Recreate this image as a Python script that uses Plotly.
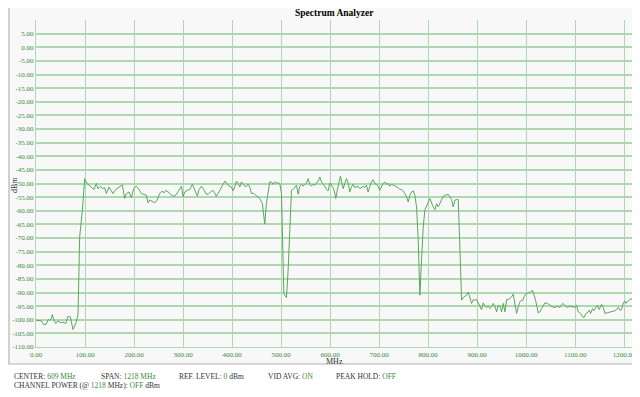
import plotly.graph_objects as go

# ---------------- data ----------------
freq_mhz = [
    0.7, 11, 15.7, 21.1, 24.5, 27.9, 31.3, 33.4, 36.1, 40.2, 44.9, 49.7, 55.1, 60.6, 65.3, 70.1,
    75.5, 81, 85.7, 89.1, 94.6, 99.3, 104.1, 113, 118.4, 123.1, 126.5, 131.3, 135.4, 140.1,
    143.5, 149, 153.7, 157.1, 162.6, 167.3, 172.1, 176.2, 180.9, 184.3, 189.8, 194.5, 199.3,
    204.7, 210.2, 214.9, 219.7, 225.1, 228.5,
    232.1, 242.3, 247.1, 252.5, 257.9, 260.7, 264.7, 269.5, 274.3, 279.7, 285.1, 289.9, 294.7,
    296.7, 300.1, 303.5, 308.3, 313.7, 319.1, 322.5, 325.9, 329.3, 332.7, 337.5, 342.3, 346.3,
    351.1, 355.9, 361.3, 364.7, 368.1, 371.5, 376.3, 381.7, 385.8, 389.9, 393.9, 398.7, 402.1,
    405.5, 408.9, 412.3, 415.7, 419.1, 423.9, 427.9, 432.7, 436.1, 439.5, 442.9, 448.3, 453.1,
    456.5, 461.9, 466.7, 470.1, 473.5, 476.9,
    480.4, 483.8, 487.2, 490.6, 494, 497.4, 500.8, 502.8, 505.6, 507.6, 511, 514.4, 517.8,
    521.2, 524.6, 528, 531.4, 534.8, 538.2, 541.6, 545, 548.4, 551.8, 555.2, 558.6, 562, 565.4,
    568.8, 572.2, 575.6, 579, 582.4, 585.8, 589.2, 592.6, 596, 599.4, 602.8, 606.2, 609.6,
    611.6, 614.4, 616.4, 618.4, 621.2, 623.2, 626.6, 630, 633.4, 636.8, 640.2, 643.6, 647,
    650.4, 653.8, 657.2, 660.6, 664, 667.4, 670.8, 674.2, 677.6, 681, 684.4, 687.8, 691.2,
    694.6, 698, 701.4, 704.8, 708.2, 711.6, 715, 718.4, 721.8,
    725.4, 728.8, 732.2, 735.6, 739, 742.4, 745.8, 749.2, 752.6, 756, 759.4, 762.8, 766.2,
    769.6, 773, 776.4, 779.8, 783.2, 786.6, 790, 793.4, 796.8, 800.2, 803.6, 807, 810.4,
    813.8, 817.2, 820.6, 824, 827.4, 830.8, 834.2, 837.6, 841, 844.4, 847.8, 851.2, 854.6,
    858, 861.4, 864.8,
    868.3, 873.1, 878.5, 881.9, 885.3, 888.7, 892.1, 895.5, 898.9, 902.3, 905.7, 909.1, 912.5,
    915.9, 919.3, 922.7, 926.1, 929.5, 932.9, 936.3, 939.7, 943.1, 946.5, 949.9, 953.3, 956.7,
    960.1, 963.5, 966.9, 970.3, 973.7, 977.1, 980.5, 983.9, 987.3, 990.7, 992.7, 995.5, 999.5,
    1004.3, 1009.1, 1013.1, 1015.9, 1020, 1024.7, 1028.1, 1033.5, 1038.3, 1043.1, 1048.5,
    1053.9, 1058.7, 1063.5, 1068.9, 1074.3, 1079.1, 1083.9, 1089.3, 1094.7, 1099.5, 1102.9,
    1106.3, 1111.1, 1115.1, 1117.9, 1121.9, 1124.7, 1128.7, 1131.5, 1135.5, 1138.3, 1142.3,
    1145.1, 1149.1, 1151.9, 1153.9, 1157.3, 1160.7, 1164.1, 1170.9, 1177.7, 1181.1, 1184.5,
    1187.9, 1191.3, 1194.7, 1198.1, 1201.5, 1203.5, 1206.3, 1210.3, 1215.1, 1218,
]
level_dbm = [
    -100.2, -100.4, -101.8, -101.6, -99.9, -100.2, -99.7, -98.1, -99.9, -101.4, -100.4, -101.0,
    -100.9, -101.4, -98.7, -99.0, -103.6, -101.4, -98.3, -69.6, -59.8, -48.2, -50.0, -51.3,
    -52.2, -50.0, -51.9, -51.0, -51.9, -51.5, -53.7, -51.3, -52.5, -53.7, -52.2, -51.5, -51.0,
    -50.6, -55.5, -53.7, -53.1, -55.2, -51.9, -51.0, -52.2, -53.7, -54.1, -54.3, -57.1,
    -56.1, -57.1, -56.1, -53.7, -52.7, -53.5, -52.5, -53.1, -53.9, -54.7, -54.3, -53.1, -51.9,
    -51.0, -54.9, -53.1, -52.5, -52.2, -50.3, -51.9, -53.7, -54.7, -52.2, -51.0, -52.2, -53.7,
    -54.0, -53.1, -52.5, -53.5, -54.7, -53.7, -51.9, -50.3, -49.1, -50.0, -51.0, -51.3, -52.7,
    -51.3, -49.1, -50.0, -51.3, -49.4, -50.3, -51.3, -50.3, -51.3, -53.7, -53.5, -54.3, -54.9,
    -55.5, -57.4, -64.9, -57.4, -52.5, -49.4,
    -49.4, -50.3, -49.4, -49.8, -49.8, -50.0, -53.7, -65.9, -90.4, -91.0, -91.9, -81.8, -65.9,
    -52.5, -52.2, -51.5, -50.6, -53.9, -51.0, -50.3, -51.0, -50.3, -49.8, -48.2, -50.3, -51.0,
    -50.3, -50.6, -50.0, -49.1, -47.6, -49.4, -50.3, -51.0, -52.2, -52.7, -49.8, -50.6, -51.5,
    -53.5, -55.5, -52.7, -51.3, -49.4, -47.3, -49.1, -51.9, -50.0, -48.2, -49.8, -53.1, -51.3,
    -50.3, -51.5, -51.3, -51.0, -51.9, -51.3, -51.0, -51.5, -50.6, -53.1, -51.3, -49.4, -48.6,
    -50.0, -50.3, -51.0, -52.5, -51.0, -50.0, -49.4, -50.3, -50.0, -51.0,
    -50.3, -50.6, -51.0, -51.0, -51.5, -52.2, -52.2, -52.7, -53.7, -54.9, -56.8, -54.3, -53.1,
    -52.7, -54.3, -58.6, -70.8, -91.0, -78.2, -65.9, -59.8, -58.6, -56.8, -55.5, -57.4, -58.6,
    -59.6, -57.4, -58.6, -57.1, -55.5, -54.7, -54.3, -54.0, -54.0, -54.9, -55.9, -58.6, -56.1,
    -55.9, -55.9, -73.3,
    -92.8, -91.6, -91.0, -89.8, -91.6, -94.0, -92.6, -92.8, -92.6, -94.0, -95.0, -96.3, -93.8,
    -95.0, -95.5, -95.0, -95.9, -95.3, -94.0, -95.0, -97.1, -94.7, -95.0, -97.1, -94.0, -97.1,
    -92.6, -92.6, -92.2, -91.6, -90.6, -94.0, -97.7, -95.3, -93.4, -92.8, -93.1, -91.6, -90.6,
    -90.1, -89.8, -89.2, -91.0, -93.4, -97.5, -97.1, -95.3, -93.8, -94.0, -94.7,
    -95.3, -95.5, -95.0, -95.5, -94.0, -94.7, -95.5, -95.0, -95.3, -95.5, -94.7,
    -97.1, -97.7, -98.9, -99.2, -97.7, -97.5, -96.5, -97.7, -95.9, -96.7, -95.5,
    -94.7, -96.3, -95.0, -94.3, -95.5, -97.7, -97.5, -97.2, -97.1, -96.7, -96.3,
    -95.5, -96.5, -96.3, -93.8, -93.1, -94.0, -93.4, -92.8, -92.2, -93.1,
]

x_tick_vals = [0, 100, 200, 300, 400, 500, 600, 700, 800, 900, 1000, 1100, 1200]
x_tick_text = ["0.00", "100.00", "200.00", "300.00", "400.00", "500.00", "600.00",
               "700.00", "800.00", "900.00", "1000.00", "1100.00", "1200.00"]
y_tick_vals = [5, 0, -5, -10, -15, -20, -25, -30, -35, -40, -45, -50, -55, -60, -65,
               -70, -75, -80, -85, -90, -95, -100, -105, -110]
y_tick_text = ["5.00", "0.00", "-5.00", "-10.00", "-15.00", "-20.00", "-25.00", "-30.00",
               "-35.00", "-40.00", "-45.00", "-50.00", "-55.00", "-60.00", "-65.00",
               "-70.00", "-75.00", "-80.00", "-85.00", "-90.00", "-95.00", "-100.00",
               "-105.00", "-110.00"]

title_text = "Spectrum Analyzer"
x_title = "MHz"
y_title = "dBm"
footer_items = [
    ("CENTER: ", "609 MHz", ""),
    ("SPAN: ", "1218 MHz", ""),
    ("REF. LEVEL: ", "0", " dBm"),
    ("VID AVG: ", "ON", ""),
    ("PEAK HOLD: ", "OFF", ""),
]
footer_line2 = ("CHANNEL POWER (@ ", "1218", " MHz): ", "OFF", " dBm")

# ---------------- style ----------------
# the page body has an 8px default margin, so the figure is drawn at (8, 8)
OFF = 8
W, H = 640 - OFF, 397 - OFF
# plot area wanted in window pixels: x 36..633, y 20..347
ML = 36 - OFF
MT = 20 - OFF
MR = (W + OFF) - 633
MB = (H + OFF) - 347
PW, PH = W - ML - MR, H - MT - MB
FONT = "Liberation Serif, Times New Roman, serif"
GREEN_TXT = "#3a8a3a"
GRID = "#b0d8b0"
TRACE = "#5aa85a"
TEXT = "#333333"


def px_x(p):
    """window pixel x -> paper coordinate"""
    return (p - OFF - ML) / PW


def px_y(p):
    """window pixel y -> paper coordinate"""
    return (H - MB - (p - OFF)) / PH


fig = go.Figure()
fig.add_trace(go.Scatter(x=freq_mhz, y=level_dbm, mode="lines",
                         line=dict(color=TRACE, width=1), hoverinfo="skip",
                         showlegend=False))

fig.update_layout(
    width=W, height=H,
    margin=dict(l=ML, r=MR, t=MT, b=MB, pad=0, autoexpand=False),
    paper_bgcolor="#ffffff",
    plot_bgcolor="rgba(0,0,0,0)",
    font=dict(family=FONT, color=TEXT, size=8),
    showlegend=False,
)
fig.update_xaxes(
    range=[0, 1218], tickmode="array", tickvals=x_tick_vals, ticktext=x_tick_text,
    showgrid=True, gridcolor=GRID, gridwidth=1.2, zeroline=False, automargin=False,
    showline=True, linecolor=GRID, linewidth=1.2, ticks="", ticklen=0,
    tickfont=dict(family=FONT, size=7, color=GREEN_TXT),
)
fig.update_yaxes(
    range=[-110, 10], tickmode="array", tickvals=y_tick_vals, ticktext=y_tick_text,
    showgrid=True, gridcolor=GRID, gridwidth=2, zeroline=False, automargin=False,
    showline=True, linecolor=GRID, linewidth=1.2, ticks="", ticklen=0,
    tickfont=dict(family=FONT, size=7, color=GREEN_TXT),
)

# outer frame
fig.add_shape(type="rect", xref="paper", yref="paper",
              x0=px_x(9), x1=px_x(636), y0=px_y(364), y1=px_y(6),
              line=dict(color="#b4b4b4", width=1.2), fillcolor="#f8f8f8", layer="below")

# title
fig.add_annotation(text="<b>%s</b>" % title_text, xref="paper", yref="paper",
                   x=0.5, y=px_y(13), xanchor="center", yanchor="middle", showarrow=False,
                   font=dict(family=FONT, size=9.5, color="#000000"))
# axis titles
fig.add_annotation(text=x_title, xref="paper", yref="paper", x=px_x(334.5), y=px_y(361),
                   xanchor="center", yanchor="middle", showarrow=False,
                   font=dict(family=FONT, size=8, color="#333333"))
fig.add_annotation(text=y_title, xref="paper", yref="paper", x=px_x(14), y=px_y(185),
                   xanchor="center", yanchor="middle", showarrow=False, textangle=-90,
                   font=dict(family=FONT, size=8, color="#333333"))

# footer
foot_x = [12, 99, 177, 265.5, 334]
for (lab, val, suf), fx in zip(footer_items, foot_x):
    fig.add_annotation(
        text="%s<span style='color:%s'>%s</span>%s" % (lab, GREEN_TXT, val, suf),
        xref="paper", yref="paper", x=px_x(fx), y=px_y(377), xanchor="left",
        yanchor="middle", showarrow=False, font=dict(family=FONT, size=7.5, color=TEXT))
a, b, c, d, e = footer_line2
fig.add_annotation(
    text="%s<span style='color:%s'>%s</span>%s<span style='color:%s'>%s</span>%s"
         % (a, GREEN_TXT, b, c, GREEN_TXT, d, e),
    xref="paper", yref="paper", x=px_x(12), y=px_y(385.5), xanchor="left",
    yanchor="middle", showarrow=False, font=dict(family=FONT, size=7.5, color=TEXT))

fig.write_html("out.html")
